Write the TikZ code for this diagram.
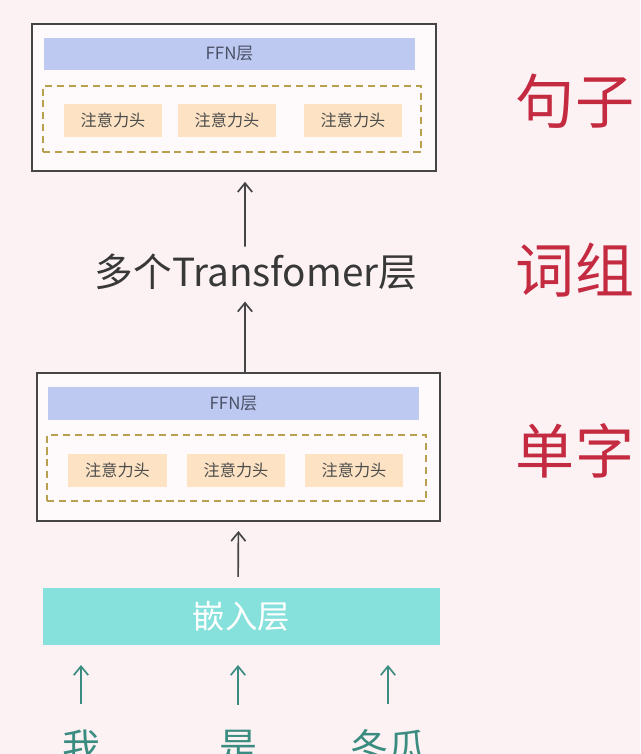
\documentclass[tikz,border=0pt]{standalone}
\usepackage{fontspec}
\setmainfont{Noto Sans CJK SC}
\usepackage{tikz}
\usetikzlibrary{positioning, arrows.meta}
\definecolor{bgpink}{HTML}{FCF2F4}
\definecolor{boxgray}{HTML}{454545}
\definecolor{ffnblue}{HTML}{BDC9F0}
\definecolor{ffntext}{HTML}{4A5066}
\definecolor{headfill}{HTML}{FDE3C4}
\definecolor{dashgold}{HTML}{B8A04E}
\definecolor{embedteal}{HTML}{86E1DC}
\definecolor{wordteal}{HTML}{3A8C80}
\definecolor{labelred}{HTML}{C42A40}
\tikzset{
    layer/.style = {rectangle, draw=boxgray, line width=1.4pt, fill=white!55!bgpink, minimum height=3.7cm},
    line/.style = {draw, -{Straight Barb[length=2.2mm, width=3.6mm]}, line width=1.2pt},
}

\begin{document}
\begin{tikzpicture}[
        x=0.025cm, y=-0.025cm,
        ffn/.style={
            rectangle,
            fill=ffnblue,
            text=ffntext,
            minimum width=9.275cm,
            minimum height=0.81cm,
            font=\fontsize{12}{12}\selectfont
        },
        heads/.style={
            rectangle,
            draw=dashgold,
            line width=1.3pt,
            dash pattern=on 5pt off 3.5pt,
            minimum height=1.65cm
        },
        head/.style={
            rectangle,
            fill=headfill,
            text=black!70,
            minimum width=2.45cm,
            minimum height=0.825cm,
            font=\fontsize{11.5}{11.5}\selectfont
        },
        word/.style={
            text=wordteal,
            inner ysep=18pt,
            font=\fontsize{27}{27}\selectfont
        },
        tag/.style={
            text=labelred,
            font=\fontsize{42}{42}\selectfont
        },
        arrow/.style={line, boxgray},
        inarrow/.style={line, wordteal}
    ]
        \fill [bgpink] (0,0) rectangle (640,754);
        \useasboundingbox (0,0) rectangle (640,754);

        % upper transformer layer
        \node [layer, minimum width=10.1cm, minimum height=3.675cm] (toplayer) at (234,97.5) {};
        \node [ffn] (topffn) at (229.5,54) {FFN层};
        \node [heads, minimum width=9.45cm] (topheads) at (232,119) {};
        \node [head] (tophA) at (113,120.5) {注意力头};
        \node [head] (tophB) at (227,120.5) {注意力头};
        \node [head] (tophC) at (353,120.5) {注意力头};

        \node [text=black!78, inner ysep=5pt, font=\fontsize{27.5}{27.5}\selectfont] (stack) at (256,272) {多个Transfomer层};

        % lower transformer layer
        \node [layer, minimum width=10.075cm] (lowlayer) at (238.5,447) {};
        \node [ffn] (lowffn) at (233.5,403.5) {FFN层};
        \node [heads, minimum width=9.475cm] (lowheads) at (236.5,468) {};
        \node [head] (lowhA) at (117.5,470.5) {注意力头};
        \node [head] (lowhB) at (236,470.5) {注意力头};
        \node [head] (lowhC) at (354,470.5) {注意力头};

        \node [rectangle, fill=embedteal, text=white, minimum width=9.925cm, minimum height=1.425cm, font=\fontsize{23}{23}\selectfont] (embed) at (241.5,616.5) {嵌入层};

        \node [word] (wo) at (81,747) {我};
        \node [word] (shi) at (238,747) {是};
        \node [word] (dongua) at (388,747) {冬瓜};

        \node [tag] (sentence) at (575,101) {句子};
        \node [tag] (phrase) at (575,270) {词组};
        \node [tag] (char) at (575,451) {单字};

        \draw [arrow, shorten >=7pt] ([xshift=-0.275cm]stack.north) -- ([xshift=0.275cm]toplayer.south);
        \draw [arrow, shorten >=3pt] ([xshift=0.1625cm]lowlayer.north) -- ([xshift=-0.275cm]stack.south);
        \draw [arrow, shorten <=7.8pt, shorten >=6.4pt] ([xshift=-0.0875cm]embed.north) -- (lowlayer.south);
        \draw [inarrow, shorten >=14pt] (wo.north) -- (wo.north |- embed.south);
        \draw [inarrow, shorten >=14pt] (shi.north) -- (shi.north |- embed.south);
        \draw [inarrow, shorten >=14pt] (dongua.north) -- (dongua.north |- embed.south);
    \end{tikzpicture}
\end{document}
